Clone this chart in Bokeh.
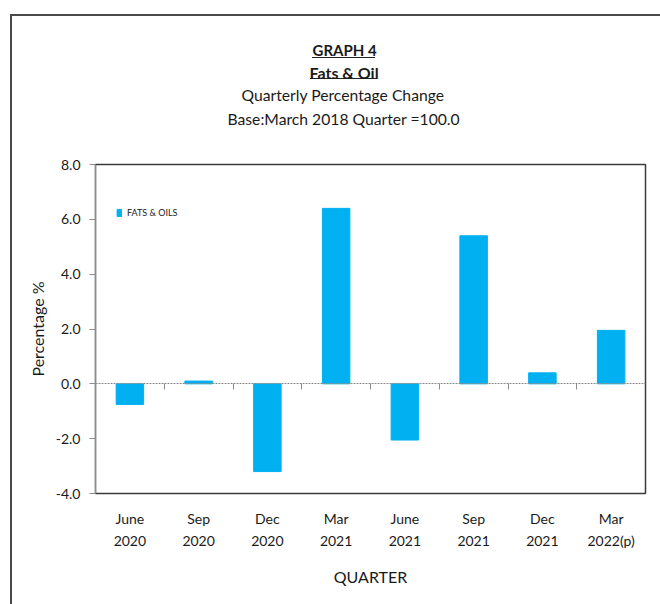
from bokeh.plotting import figure
from bokeh.models import (Range1d, FixedTicker, PrintfTickFormatter, LinearAxis,
                          CustomJSTickFormatter, Legend, LegendItem, Title,
                          ColumnDataSource)
from bokeh.embed import file_html
from bokeh.resources import INLINE

# ---- data ----
quarters = ["June\n2020", "Sep\n2020", "Dec\n2020", "Mar\n2021",
            "June\n2021", "Sep\n2021", "Dec\n2021", "Mar\n2022(p)"]
fats_oils = [-0.75, 0.1, -3.2, 6.4, -2.05, 5.4, 0.4, 1.95]
y_ticks = [-4.0, -2.0, 0.0, 2.0, 4.0, 6.0, 8.0]
series_name = "FATS & OILS"
title_lines = ["GRAPH 4", "Fats & Oil", "Quarterly Percentage Change",
               "Base:March 2018 Quarter =100.0"]

FONT = "Lato"
TXT = "#1a1a1a"
GREY = "#8c8c8c"
BAR = "#00B0F0"
W, H = 660, 604

n = len(quarters)
centers = [i + 0.5 for i in range(n)]
src = ColumnDataSource(dict(x=centers, top=fats_oils, label=quarters))

p = figure(width=W, height=H, x_range=Range1d(0, n), y_range=Range1d(-4, 8),
           output_backend="svg", toolbar_location=None,
           min_border_left=95, min_border_right=W - 645, min_border_top=164,
           min_border_bottom=H - 493)
p.background_fill_color = "white"
p.border_fill_color = None
p.xgrid.visible = False
p.ygrid.visible = False
p.outline_line_color = "#3a3a3a"
p.outline_line_width = 1.5

# decorative outer frame and title underlines (page background, under the canvas)
p.styles = {
    "background": (
        "linear-gradient(#222,#222) 312px 57px / 63px 1px no-repeat, "
        "linear-gradient(#222,#222) 310px 78px / 67px 1px no-repeat, "
        "linear-gradient(#4a4a4a,#4a4a4a) 10px 14px / 2px 100% no-repeat, "
        "linear-gradient(#4a4a4a,#4a4a4a) 10px 14px / 100% 2px no-repeat, white"
    )
}

r = p.vbar(x="x", top="top", bottom=0, width=0.4, source=src,
           fill_color=BAR, line_color=BAR)

# y axis
ya = p.yaxis[0]
ya.ticker = FixedTicker(ticks=y_ticks)
ya.formatter = PrintfTickFormatter(format="%.1f")
ya.axis_line_color = GREY
ya.major_tick_line_color = GREY
ya.major_tick_in = 0
ya.major_tick_out = 6
ya.minor_tick_line_color = None
ya.major_label_standoff = 9
ya.major_label_text_font = FONT
ya.major_label_text_font_size = "14px"
ya.major_label_text_color = TXT
ya.axis_label = "Percentage %"
ya.axis_label_text_font = FONT
ya.axis_label_text_font_size = "16px"
ya.axis_label_text_font_style = "normal"
ya.axis_label_text_color = TXT
ya.axis_label_standoff = 6

# x axis (category labels only)
xa = p.xaxis[0]
xa.ticker = FixedTicker(ticks=centers)
xa.formatter = CustomJSTickFormatter(args=dict(labels=quarters),
                                     code="return labels[Math.floor(tick)]")
xa.axis_line_color = None
xa.major_tick_line_color = None
xa.minor_tick_line_color = None
xa.major_tick_in = 0
xa.major_tick_out = 0
xa.major_label_standoff = 16
xa.major_label_text_font = FONT
xa.major_label_text_font_size = "14px"
xa.major_label_text_color = TXT
xa.major_label_text_line_height = 1.3
xa.axis_label = "QUARTER"
xa.axis_label_text_font = FONT
xa.axis_label_text_font_size = "16px"
xa.axis_label_text_font_style = "normal"
xa.axis_label_text_color = TXT
xa.axis_label_standoff = 15

# zero line with category-boundary ticks
zero_axis = LinearAxis(fixed_location=0,
                       ticker=FixedTicker(ticks=list(range(1, n))),
                       formatter=CustomJSTickFormatter(code="return ''"),
                       axis_line_color=GREY, axis_line_dash="2 1",
                       major_tick_line_color=GREY, major_tick_in=0, major_tick_out=6,
                       minor_tick_line_color=None)
p.add_layout(zero_axis, "below")

# legend
legend = Legend(items=[LegendItem(label=series_name, renderers=[r])],
                location=(21, 275), border_line_color=None, background_fill_alpha=0,
                padding=0, margin=0, spacing=0, glyph_width=6, glyph_height=9,
                label_height=9, label_standoff=5, label_text_font=FONT,
                label_text_font_size="9px", label_text_color=TXT)
p.add_layout(legend)

# titles (added nearest-to-plot first), left-aligned with offsets so they centre near x=343
title_size = ["15px", "16px", "15.7px", "15.7px"]
title_style = ["bold", "bold", "normal", "normal"]
title_standoff = [1, 2, 2, 7]
title_offset = [217, 214, 146, 132]
title_pad_bottom = [0, 0, 0, 31]
for txt, ts, st, so, off, pb in reversed(list(zip(title_lines, title_size, title_style,
                                                  title_standoff, title_offset,
                                                  title_pad_bottom))):
    p.add_layout(Title(text=txt, align="left", offset=off, vertical_align="top",
                       text_font=FONT, text_font_size=ts, text_font_style=st,
                       text_color=TXT, standoff=so,
                       padding=dict(left=0, right=0, top=0, bottom=pb)), "above")

open("out.html", "w").write(file_html(p, INLINE))
